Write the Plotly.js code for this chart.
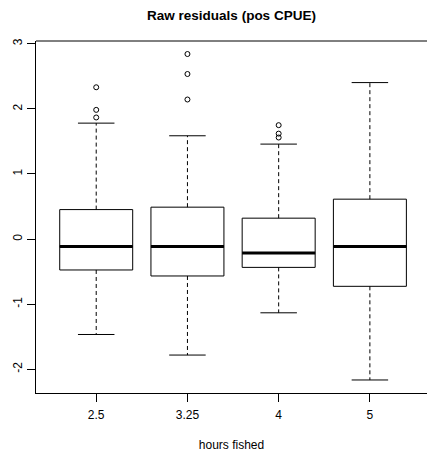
<!DOCTYPE html>
<html>
<head>
<meta charset="utf-8">
<script src="https://cdn.plot.ly/plotly-3.0.1.min.js"></script>
<style>html,body{margin:0;padding:0;background:#fff;}#chart{width:427px;height:453px;}</style>
</head>
<body>
<div id="chart"></div>
<script>
// Data
var categories = ["2.5", "3.25", "4", "5"];
var q1 = [-0.475, -0.567, -0.435, -0.726];
var median = [-0.113, -0.113, -0.214, -0.113];
var q3 = [0.453, 0.490, 0.321, 0.613];
var lowerWhisker = [-1.466, -1.782, -1.133, -2.165];
var upperWhisker = [1.781, 1.587, 1.459, 2.404];
var outlierGroup = [0, 0, 0, 1, 1, 1, 2, 2, 2];
var outlierValue = [2.332, 1.985, 1.868, 2.843, 2.536, 2.144, 1.750, 1.620, 1.560];

var pos = categories.map(function (c, i) { return i; });
var boxHalf = 0.4, capHalf = 0.2;

var wx = [], wy = [], cx = [], cy = [], mx = [], my = [];
pos.forEach(function (p, i) {
  wx.push(p, p, null, p, p, null);
  wy.push(q3[i], upperWhisker[i], null, q1[i], lowerWhisker[i], null);
  cx.push(p - capHalf, p + capHalf, null, p - capHalf, p + capHalf, null);
  cy.push(upperWhisker[i], upperWhisker[i], null, lowerWhisker[i], lowerWhisker[i], null);
  mx.push(p - boxHalf, p + boxHalf, null);
  my.push(median[i], median[i], null);
});

var traces = [
  { type: 'scatter', mode: 'lines', x: wx, y: wy, line: { color: '#000', width: 1, dash: '4px,3px' }, hoverinfo: 'skip', showlegend: false },
  { type: 'scatter', mode: 'lines', x: cx, y: cy, line: { color: '#000', width: 1 }, hoverinfo: 'skip', showlegend: false },
  { type: 'box', x: pos, q1: q1, median: median, q3: q3, lowerfence: q1, upperfence: q3,
    width: 0.8, whiskerwidth: 0, fillcolor: '#fff', line: { color: '#000', width: 1 }, boxpoints: false, showlegend: false },
  { type: 'scatter', mode: 'lines', x: mx, y: my, line: { color: '#000', width: 3 }, hoverinfo: 'skip', showlegend: false },
  { type: 'scatter', mode: 'markers', x: outlierGroup, y: outlierValue,
    marker: { symbol: 'circle-open', size: 5, color: '#000', line: { width: 1, color: '#000' } }, showlegend: false }
];

var layout = {
  width: 427, height: 453,
  margin: { l: 36, r: 0, t: 41, b: 60 },
  paper_bgcolor: '#fff', plot_bgcolor: '#fff',
  font: { family: 'Liberation Sans, Arial, sans-serif', size: 12, color: '#000' },
  showlegend: false,
  title: { text: '<b>Raw residuals (pos CPUE)</b>', font: { size: 13.5, color: '#000' },
           xref: 'paper', x: 0.5, xanchor: 'center', yref: 'container', y: 0.967, yanchor: 'middle' },
  xaxis: {
    range: [-0.66, 3.626], tickmode: 'array', tickvals: pos, ticktext: categories,
    showline: true, linecolor: '#000', linewidth: 1, ticks: 'outside', ticklen: 8, tickcolor: '#000',
    ticklabelstandoff: 3,
    showgrid: false, zeroline: false, tickfont: { size: 12 },
    title: { text: 'hours fished', font: { size: 12 }, standoff: 19 }, automargin: false
  },
  yaxis: {
    range: [-2.365, 3.043], tickmode: 'array', tickvals: [-2, -1, 0, 1, 2, 3], ticktext: ['-2', '-1', '0', '1', '2', '3'],
    tickangle: -90, showline: true, linecolor: '#000', linewidth: 1, ticks: 'outside', ticklen: 8, tickcolor: '#000',
    showgrid: false, zeroline: false, tickfont: { size: 12 }, automargin: false
  },
  shapes: [
    { type: 'line', xref: 'paper', yref: 'paper', x0: 0, x1: 1, y0: 1, y1: 1, line: { color: '#000', width: 1 } }
  ]
};

Plotly.newPlot('chart', traces, layout, { displayModeBar: false, staticPlot: true });
</script>
</body>
</html>
